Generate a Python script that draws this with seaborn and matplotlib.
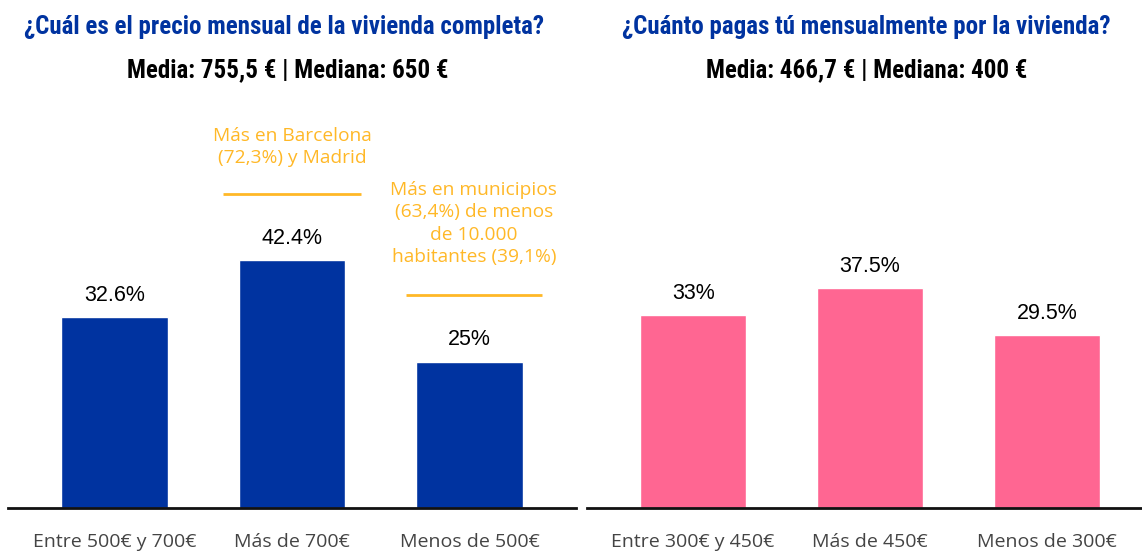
import pandas as pd
import seaborn as sns
import matplotlib.pyplot as plt

# datos del gráfico
left_cats = ['Entre 500€ y 700€', 'Más de 700€', 'Menos de 500€']
left_vals = [32.6, 42.4, 25.0]
left_text = ['32.6%', '42.4%', '25%']

right_cats = ['Entre 300€ y 450€', 'Más de 450€', 'Menos de 300€']
right_vals = [33.0, 37.5, 29.5]
right_text = ['33%', '37.5%', '29.5%']

left_title = '¿Cuál es el precio mensual de la vivienda completa?'
left_sub = 'Media: 755,5 € | Mediana: 650 €'
right_title = '¿Cuánto pagas tú mensualmente por la vivienda?'
right_sub = 'Media: 466,7 € | Mediana: 400 €'

note_1 = 'Más en Barcelona\n(72,3%) y Madrid'
note_2 = 'Más en municipios\n(63,4%) de menos\nde 10.000\nhabitantes (39,1%)'

BLUE = '#0033a0'
PINK = '#ff6692'
ORANGE = '#ffb827'

sns.set_theme(style='white')
plt.rcParams['font.family'] = ['Liberation Sans', 'DejaVu Sans']

W, H = 1142, 551
fig = plt.figure(figsize=(W / 100, H / 100), dpi=100)
ax1 = fig.add_axes([8 / W, 43 / H, 568 / W, 410 / H])
ax2 = fig.add_axes([587 / W, 43 / H, 566 / W, 410 / H])


def draw_panel(ax, cats, vals, texts, color):
    df = pd.DataFrame({'cat': cats, 'val': vals})
    sns.barplot(data=df, x='cat', y='val', color=color, width=0.6,
                saturation=1, ax=ax, order=cats)
    for i, (v, t) in enumerate(zip(vals, texts)):
        ax.annotate(t, (i, v), xytext=(0, 8), textcoords='offset points',
                    ha='center', va='bottom', fontsize=15.5, color='black',
                    family=['Liberation Sans', 'DejaVu Sans'])
    ax.set_xlim(-0.6, 2.6)
    ax.set_ylim(0, 70)
    ax.set_xlabel('')
    ax.set_ylabel('')
    ax.set_yticks([])
    for s in ['top', 'left', 'right']:
        ax.spines[s].set_visible(False)
    ax.spines['bottom'].set_color('#111111')
    ax.spines['bottom'].set_linewidth(2)
    ax.tick_params(axis='x', length=0, pad=18, labelsize=14, labelcolor='#444444')
    for lab in ax.get_xticklabels():
        lab.set_family(['Open Sans', 'DejaVu Sans'])


draw_panel(ax1, left_cats, left_vals, left_text, BLUE)
draw_panel(ax2, right_cats, right_vals, right_text, PINK)

# notas en naranja
ax1.text(1.0, 61.6, note_1, ha='center', va='center', color=ORANGE,
         fontsize=13.8, linespacing=1.3, family=['Open Sans', 'DejaVu Sans'])
ax1.plot([0.61, 1.39], [53.6, 53.6], color=ORANGE, lw=2, solid_capstyle='butt')
ax1.text(2.025, 48.6, note_2, ha='center', va='center', color=ORANGE,
         fontsize=13.8, linespacing=1.32, family=['Open Sans', 'DejaVu Sans'])
ax1.plot([1.64, 2.41], [36.3, 36.3], color=ORANGE, lw=2, solid_capstyle='butt')

# títulos
cond = ['Roboto Condensed', 'Roboto', 'DejaVu Sans']
fig.text(284 / W, 1 - 27 / H, left_title, ha='center', va='center',
         color=BLUE, fontsize=18, fontweight='bold', family=cond)
fig.text(288 / W, 1 - 70 / H, left_sub, ha='center', va='center',
         color='black', fontsize=18, fontweight='bold', family=cond)
fig.text(866 / W, 1 - 27 / H, right_title, ha='center', va='center',
         color=BLUE, fontsize=18, fontweight='bold', family=cond)
fig.text(867 / W, 1 - 70 / H, right_sub, ha='center', va='center',
         color='black', fontsize=18, fontweight='bold', family=cond)

fig.savefig('out.png', dpi=100)
